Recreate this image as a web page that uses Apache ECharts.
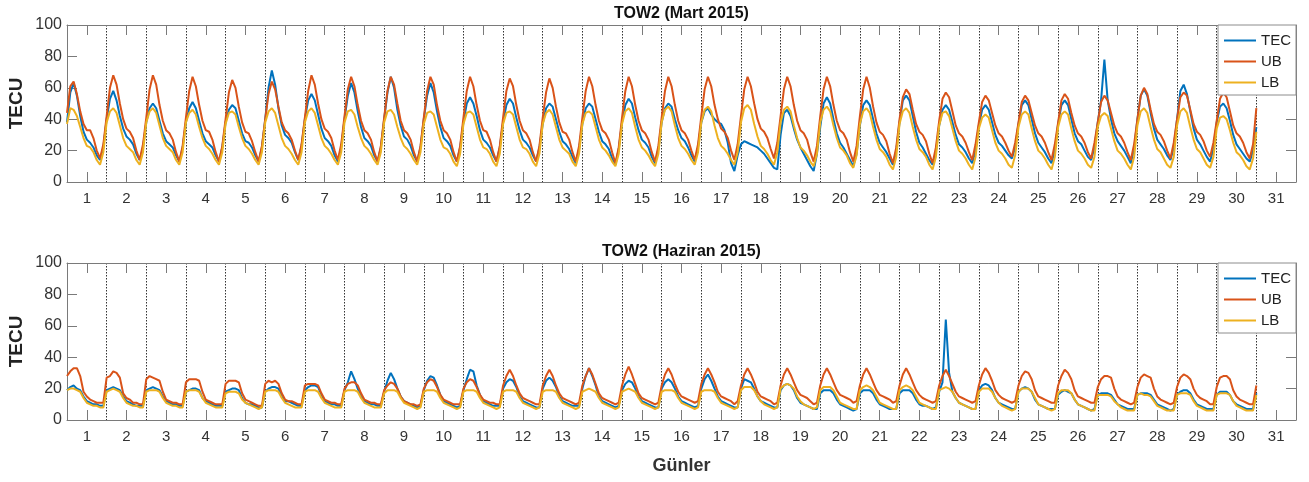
<!DOCTYPE html>
<html>
<head>
<meta charset="utf-8">
<script src="https://cdn.jsdelivr.net/npm/echarts@6/dist/echarts.min.js"></script>
<style>
  html, body { margin: 0; padding: 0; background: #fff; }
  #chart { width: 1309px; height: 482px; }
</style>
</head>
<body>
<div id="chart"></div>
<script>
// Day-of-month labels on the x axis
const dayLabels = ['1','2','3','4','5','6','7','8','9','10','11','12','13','14','15','16',
  '17','18','19','20','21','22','23','24','25','26','27','28','29','30','31'];
const seriesNames = ['TEC', 'UB', 'LB'];
const titles = ['TOW2 (Mart 2015)', 'TOW2 (Haziran 2015)'];

// Two-hourly TEC values (TECU), one row per day, starting at day 0.5
const samplesPerDay = 12;
const firstDay = 0.5;

const marchTEC = [
  [38,57,63,55,42,32,27,25,22,17,14,22],
  [40,53,58,52,42,34,29,27,24,18,14,22],
  [38,47,50,47,39,31,26,24,22,17,13,22],
  [38,47,51,47,39,31,26,24,22,17,13,22],
  [38,46,49,47,39,31,26,25,22,17,13,22],
  [40,60,71,62,47,36,30,28,25,19,14,23],
  [40,52,56,52,43,34,28,26,23,17,13,22],
  [40,55,63,57,45,35,28,26,23,17,13,22],
  [40,57,67,60,46,36,29,27,23,17,13,22],
  [40,55,63,57,45,35,28,26,23,17,13,22],
  [38,50,54,50,42,33,27,25,22,17,13,22],
  [38,49,53,50,41,33,27,25,22,17,13,22],
  [37,47,50,48,40,32,26,24,21,16,12,21],
  [37,47,50,48,40,32,26,24,21,15,11,21],
  [38,49,53,50,41,33,27,25,22,16,12,21],
  [38,47,50,48,40,33,28,26,22,17,13,22],
  [38,45,47,43,40,38,37,33,25,12,7,17],
  [24,26,25,24,23,22,20,18,15,12,9,8],
  [30,44,46,42,34,27,22,18,14,10,7,18],
  [35,50,54,50,40,31,25,22,18,14,10,18],
  [36,49,52,49,40,31,25,22,19,15,11,20],
  [38,52,55,52,42,32,25,22,18,14,11,19],
  [36,46,49,46,38,30,24,22,19,15,12,20],
  [36,46,49,46,38,30,25,23,20,17,15,22],
  [37,49,52,49,40,31,25,22,19,15,12,20],
  [37,49,52,49,40,31,26,24,20,16,14,22],
  [38,52,78,52,40,31,26,23,20,16,12,21],
  [40,55,59,55,44,34,27,24,21,17,14,22],
  [40,58,62,56,45,34,27,24,20,16,13,21],
  [38,48,50,47,39,30,24,21,18,15,13,20,35]
];

const marchUB = [
  [44,61,64,56,45,37,33,33,28,20,15,24],
  [42,60,68,62,50,40,34,32,28,20,14,24],
  [41,59,68,62,49,39,33,31,27,19,13,23],
  [41,58,67,61,49,39,33,32,27,19,13,23],
  [40,57,65,60,48,38,32,31,26,19,13,23],
  [40,56,64,59,48,38,33,31,27,20,14,24],
  [41,58,68,62,50,40,34,32,28,20,14,24],
  [42,59,67,61,49,39,33,31,27,19,13,23],
  [41,58,67,62,50,39,33,31,27,19,13,23],
  [41,58,67,62,49,39,33,31,27,19,13,23],
  [41,58,67,61,49,39,33,32,27,19,13,23],
  [41,58,66,61,49,39,33,31,27,19,13,23],
  [41,57,66,60,48,38,32,31,27,19,13,23],
  [41,58,67,61,49,39,33,31,27,19,12,22],
  [41,58,67,61,49,39,33,31,27,19,13,23],
  [41,58,67,61,49,39,33,31,27,20,14,24],
  [42,59,67,61,49,40,34,32,28,20,14,24],
  [42,59,67,61,50,40,34,32,28,21,15,25],
  [42,59,67,61,49,39,33,31,27,19,13,23],
  [42,59,67,61,49,39,33,31,27,19,13,23],
  [42,59,67,60,48,38,32,30,26,18,12,22],
  [40,54,59,56,46,37,32,30,26,18,12,22],
  [39,53,57,54,45,36,31,29,25,19,14,24],
  [38,51,55,52,44,36,31,29,25,20,16,25],
  [38,51,55,52,44,36,31,29,25,19,14,24],
  [38,52,56,53,44,36,31,29,25,19,15,25],
  [38,51,55,52,44,36,31,29,25,19,14,24],
  [40,55,60,56,46,37,32,30,26,20,15,25],
  [40,54,57,55,46,37,32,30,26,20,16,25],
  [39,53,57,54,45,36,31,29,25,19,15,24,47]
];

const marchLB = [
  [37,47,46,42,35,28,23,22,19,14,11,19],
  [38,45,47,44,36,28,23,21,19,14,11,19],
  [38,45,47,44,36,28,23,21,19,14,11,19],
  [38,44,46,43,35,28,23,21,18,14,11,19],
  [37,44,45,43,35,28,23,21,18,14,11,19],
  [38,45,47,44,36,28,23,21,18,14,11,19],
  [38,45,47,44,36,28,23,21,18,14,11,19],
  [38,45,46,43,35,28,23,21,18,14,11,19],
  [38,45,46,43,35,28,23,21,18,14,11,19],
  [37,44,45,43,35,27,22,21,18,13,10,18],
  [37,44,45,43,35,27,22,21,18,13,10,18],
  [37,44,45,43,35,27,22,21,18,13,10,18],
  [37,44,46,43,35,27,22,20,18,13,10,18],
  [37,44,45,43,35,27,22,20,17,13,10,18],
  [37,45,47,44,35,27,22,20,17,13,10,18],
  [38,46,48,45,36,28,23,21,18,14,11,19],
  [38,46,48,45,36,28,23,21,18,14,11,19],
  [38,47,49,46,37,29,23,21,18,14,11,19],
  [38,46,48,45,36,28,22,20,17,13,10,18],
  [38,46,48,45,36,28,22,20,17,12,9,17],
  [37,45,47,44,35,27,21,19,16,11,8,16],
  [37,45,47,44,35,27,21,19,16,11,8,16],
  [36,44,45,42,34,26,20,18,15,11,8,16],
  [34,41,43,41,33,25,20,18,15,11,9,17],
  [35,43,45,43,34,26,20,18,15,11,8,16],
  [35,43,45,43,34,26,20,18,15,11,9,16],
  [35,42,44,42,34,26,20,18,15,11,8,16],
  [36,45,47,44,35,27,21,19,15,11,9,16],
  [36,45,47,44,35,27,21,19,15,11,9,16],
  [34,41,42,40,33,25,19,17,14,10,8,15,32]
];

const juneTEC = [
  [19,21,22,20,19,15,12,11,10,10,9,9],
  [19,20,21,20,19,15,12,11,10,9,9,9],
  [19,20,21,20,19,15,12,11,10,10,9,9],
  [18,19,20,20,19,14,12,11,10,9,9,9],
  [18,19,20,20,19,14,11,10,10,9,8,8],
  [18,20,21,21,20,15,12,12,11,10,9,9],
  [19,21,22,22,21,16,12,11,10,10,9,9],
  [19,24,31,26,20,15,12,11,10,10,9,9],
  [18,25,30,26,20,15,12,11,10,9,8,9],
  [19,25,28,27,22,16,12,11,10,9,8,9],
  [19,26,32,31,22,16,12,11,10,9,9,9],
  [20,24,26,25,21,15,12,11,10,9,8,8],
  [20,25,27,25,21,15,12,11,10,9,9,9],
  [20,28,33,28,22,15,12,11,10,9,8,9],
  [19,23,25,24,20,15,12,11,10,9,8,8],
  [20,24,26,24,20,15,12,11,10,9,8,9],
  [20,26,29,25,20,15,12,11,10,9,8,8],
  [20,26,25,24,20,15,12,11,10,9,8,8],
  [19,22,23,22,19,14,11,10,9,8,7,7],
  [17,19,19,19,17,13,10,9,8,7,6,7],
  [17,19,19,19,17,13,10,9,8,7,7,7],
  [17,19,19,19,17,13,10,9,9,8,7,8],
  [18,24,64,30,18,14,11,10,9,8,7,7],
  [19,22,23,22,19,14,11,10,9,8,7,7],
  [18,20,21,20,18,13,10,9,8,7,7,7],
  [16,18,19,18,17,13,10,9,8,7,6,7],
  [16,17,17,17,16,13,10,9,8,7,7,7],
  [16,17,17,17,16,13,10,9,8,7,6,7],
  [16,18,19,19,17,13,10,9,8,7,7,7],
  [16,18,18,18,16,12,10,9,8,7,7,7,17]
];

const juneUB = [
  [28,31,33,33,28,18,15,13,12,11,11,11],
  [27,28,31,30,27,17,14,13,11,11,10,10],
  [26,28,27,26,25,18,13,12,11,11,10,10],
  [24,26,26,26,25,18,13,12,11,10,10,10],
  [23,25,25,25,24,17,13,12,11,10,9,9],
  [23,25,24,25,23,17,13,12,12,11,10,10],
  [22,23,23,23,22,17,13,12,11,11,10,10],
  [20,23,24,24,22,17,13,12,11,11,10,10],
  [19,22,24,23,20,15,12,11,10,10,9,10],
  [20,24,26,25,21,16,13,12,11,10,10,10],
  [20,24,26,25,21,16,13,12,11,11,10,10],
  [22,28,32,28,22,17,14,13,12,11,10,10],
  [22,28,32,28,22,17,14,13,12,11,10,11],
  [22,28,33,29,23,17,14,13,12,11,10,11],
  [22,29,34,29,23,17,14,13,12,11,10,11],
  [22,29,33,29,23,18,15,14,13,12,11,12],
  [23,29,33,29,24,18,15,14,13,12,10,12],
  [22,29,33,29,24,18,15,14,13,12,10,11],
  [22,29,33,29,24,19,16,15,14,12,10,11],
  [22,29,33,29,24,19,16,15,14,13,11,12],
  [22,29,33,29,24,19,16,15,14,13,11,12],
  [22,29,33,29,24,19,16,14,13,12,11,12],
  [22,28,32,28,23,18,15,14,13,12,11,12],
  [22,29,33,30,25,19,16,14,13,12,11,12],
  [22,28,31,30,26,19,15,14,13,12,11,11],
  [22,28,32,30,26,19,15,14,13,12,11,11],
  [21,26,28,28,27,20,15,13,12,11,10,11],
  [21,27,29,28,27,20,15,13,12,11,10,11],
  [21,27,29,28,26,20,16,14,13,12,10,10],
  [21,27,28,28,26,19,15,13,12,11,10,10,22]
];

const juneLB = [
  [19,20,20,19,18,14,11,10,9,9,8,8],
  [18,19,20,19,18,14,11,10,9,9,8,8],
  [18,19,19,19,18,14,11,10,9,9,8,8],
  [18,19,19,19,18,14,11,10,9,8,8,8],
  [17,18,18,18,17,13,11,10,9,8,7,8],
  [18,19,19,19,18,14,11,10,9,8,8,8],
  [18,19,19,19,18,14,11,10,9,8,8,8],
  [18,19,19,19,18,14,11,10,9,8,8,8],
  [17,19,19,19,18,14,11,10,9,8,7,8],
  [18,19,19,19,18,14,11,10,9,8,7,8],
  [18,19,19,19,18,14,11,10,9,8,7,8],
  [18,19,19,19,18,14,11,10,9,8,7,8],
  [18,19,19,19,18,14,11,10,9,8,7,8],
  [18,19,20,19,18,14,11,10,9,8,7,8],
  [18,19,20,19,18,14,11,10,9,8,7,8],
  [18,19,19,19,18,14,11,10,9,8,7,8],
  [18,19,19,19,18,14,11,10,9,8,7,8],
  [19,21,21,21,19,15,12,10,9,8,7,8],
  [20,22,23,22,20,15,12,10,9,8,7,8],
  [19,21,21,21,19,15,11,10,9,8,7,7],
  [19,21,22,21,19,15,11,10,9,8,7,7],
  [19,21,22,21,19,15,11,10,9,8,7,7],
  [19,20,21,20,18,14,11,10,9,8,7,7],
  [18,20,20,20,18,14,11,9,8,7,6,7],
  [18,20,20,20,18,14,10,9,8,7,6,7],
  [17,19,19,19,17,13,10,9,8,7,6,6],
  [16,16,16,16,15,12,10,8,7,6,6,6],
  [16,17,16,16,15,12,9,8,7,6,6,6],
  [16,17,17,17,16,12,9,8,7,6,6,6],
  [16,17,17,17,16,12,9,8,7,6,6,6,16]
];

const colors = { TEC: '#0072BD', UB: '#D95319', LB: '#EDB120' };

// Turn day rows into [day, value] pairs along the continuous day axis
function toPoints(rows) {
  return rows.flat().map((v, i) => [firstDay + i / samplesPerDay, v]);
}

const panels = [
  { TEC: marchTEC, UB: marchUB, LB: marchLB },
  { TEC: juneTEC, UB: juneUB, LB: juneLB }
];

const gridTops = [25, 263];
const gridLeft = 67, gridWidth = 1229, gridHeight = 157;
const frameColor = '#7a7a7a';
const labelFont = 'Liberation Sans';

const grids = [], xAxes = [], yAxes = [], series = [], legends = [], graphics = [];

gridTops.forEach((top, g) => {
  grids.push({ left: gridLeft, top: top, width: gridWidth, height: gridHeight, containLabel: false });

  const base = xAxes.length;
  // continuous day axis carrying the data; its split lines mark day boundaries
  xAxes.push({
    type: 'value', gridIndex: g, min: 0.5, max: 31.5, interval: 1,
    axisLine: { show: false }, axisTick: { show: false }, axisLabel: { show: false },
    splitLine: { show: true, lineStyle: { type: [1.5, 1.5], color: '#333', width: 1 } }
  });
  // labelled day axis at the bottom
  xAxes.push({
    type: 'category', gridIndex: g, position: 'bottom', data: dayLabels, boundaryGap: true,
    axisLine: { show: true, lineStyle: { color: frameColor, width: 1 } },
    axisTick: { show: true, inside: true, alignWithLabel: true, interval: 0, length: 10, lineStyle: { color: frameColor } },
    axisLabel: { show: true, interval: 0, margin: 9, color: '#333', fontSize: 15, fontFamily: labelFont },
    splitLine: { show: false }
  });
  // mirrored ticks along the top edge
  xAxes.push({
    type: 'category', gridIndex: g, position: 'top', data: dayLabels, boundaryGap: true,
    axisLine: { show: true, lineStyle: { color: frameColor, width: 1 } },
    axisTick: { show: true, inside: true, alignWithLabel: true, interval: 0, length: 10, lineStyle: { color: frameColor } },
    axisLabel: { show: false }, splitLine: { show: false }
  });

  const ybase = yAxes.length;
  yAxes.push({
    type: 'value', gridIndex: g, position: 'left', min: 0, max: 100, interval: 20,
    axisLine: { show: true, lineStyle: { color: frameColor, width: 1 } },
    axisTick: { show: true, inside: true, length: 10, lineStyle: { color: frameColor } },
    axisLabel: { show: true, margin: 5, color: '#333', fontSize: 16, fontFamily: labelFont },
    splitLine: { show: false }
  });
  yAxes.push({
    type: 'value', gridIndex: g, position: 'right', min: 0, max: 100, interval: 20,
    axisLine: { show: true, lineStyle: { color: frameColor, width: 1 } },
    axisTick: { show: true, inside: true, length: 10, lineStyle: { color: frameColor } },
    axisLabel: { show: false }, splitLine: { show: false }
  });

  seriesNames.forEach(name => {
    series.push({
      name: name, type: 'line', xAxisIndex: base, yAxisIndex: ybase,
      data: toPoints(panels[g][name]),
      showSymbol: false, symbol: 'none', smooth: false,
      lineStyle: { color: colors[name], width: 2 },
      itemStyle: { color: colors[name] },
      emphasis: { disabled: true }, z: 3
    });
  });

  legends.push({
    data: seriesNames, orient: 'vertical', right: 1309 - gridLeft - gridWidth, top: top,
    backgroundColor: '#fff', borderColor: '#8c8c8c', borderWidth: 1,
    padding: [8, 5, 5, 6], itemGap: 6, itemWidth: 32, itemHeight: 2, icon: 'rect',
    textStyle: { fontSize: 15, fontFamily: labelFont, color: '#222', lineHeight: 14 },
    selectedMode: false
  });

  graphics.push({
    type: 'text', x: gridLeft + gridWidth / 2, y: top - 11,
    style: { text: titles[g], align: 'center', verticalAlign: 'middle',
      font: 'bold 16px "Liberation Sans"', fill: '#111' }
  });
  graphics.push({
    type: 'text', x: 17, y: top + gridHeight / 2, rotation: Math.PI / 2,
    style: { text: 'TECU', align: 'center', verticalAlign: 'middle',
      font: 'bold 19px "Liberation Sans"', fill: '#222' }
  });
});

graphics.push({
  type: 'text', x: gridLeft + gridWidth / 2, y: 466,
  style: { text: 'Günler', align: 'center', verticalAlign: 'middle',
    font: 'bold 18px "Liberation Sans"', fill: '#333' }
});

const chart = echarts.init(document.getElementById('chart'), null, { renderer: 'canvas' });
chart.setOption({
  animation: false,
  backgroundColor: '#fff',
  grid: grids,
  xAxis: xAxes,
  yAxis: yAxes,
  legend: legends,
  series: series,
  graphic: graphics
});
</script>
</body>
</html>
